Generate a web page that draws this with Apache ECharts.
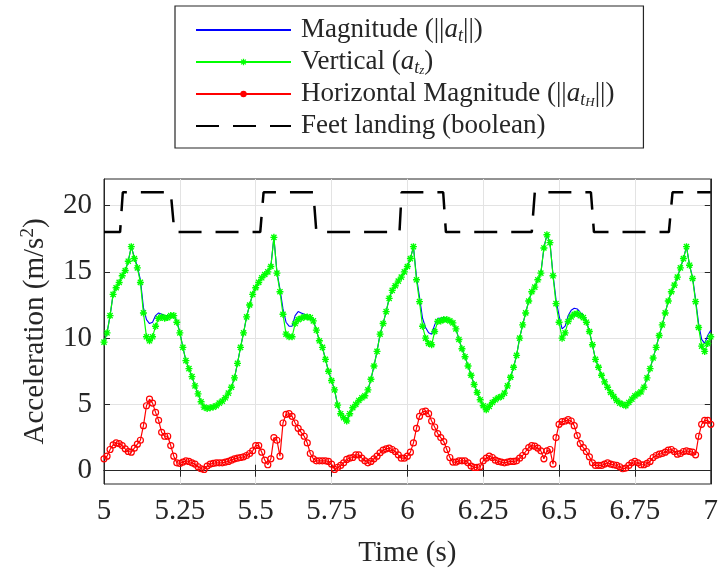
<!DOCTYPE html>
<html>
<head>
<meta charset="utf-8">
<script src="https://cdn.jsdelivr.net/npm/echarts@6/dist/echarts.min.js"></script>
<style>
html,body{margin:0;padding:0;background:#fff;}
#chart{width:721px;height:573px;}
</style>
</head>
<body>
<div id="chart"></div>
<script>
// ---- data ----
const time = [
5.00,5.01,5.02,5.03,5.04,5.05,5.06,5.07,5.08,5.09,
5.10,5.11,5.12,5.13,5.14,5.15,5.16,5.17,5.18,5.19,
5.20,5.21,5.22,5.23,5.24,5.25,5.26,5.27,5.28,5.29,
5.30,5.31,5.32,5.33,5.34,5.35,5.36,5.37,5.38,5.39,
5.40,5.41,5.42,5.43,5.44,5.45,5.46,5.47,5.48,5.49,
5.50,5.51,5.52,5.53,5.54,5.55,5.56,5.57,5.58,5.59,
5.60,5.61,5.62,5.63,5.64,5.65,5.66,5.67,5.68,5.69,
5.70,5.71,5.72,5.73,5.74,5.75,5.76,5.77,5.78,5.79,
5.80,5.81,5.82,5.83,5.84,5.85,5.86,5.87,5.88,5.89,
5.90,5.91,5.92,5.93,5.94,5.95,5.96,5.97,5.98,5.99,
6.00,6.01,6.02,6.03,6.04,6.05,6.06,6.07,6.08,6.09,
6.10,6.11,6.12,6.13,6.14,6.15,6.16,6.17,6.18,6.19,
6.20,6.21,6.22,6.23,6.24,6.25,6.26,6.27,6.28,6.29,
6.30,6.31,6.32,6.33,6.34,6.35,6.36,6.37,6.38,6.39,
6.40,6.41,6.42,6.43,6.44,6.45,6.46,6.47,6.48,6.49,
6.50,6.51,6.52,6.53,6.54,6.55,6.56,6.57,6.58,6.59,
6.60,6.61,6.62,6.63,6.64,6.65,6.66,6.67,6.68,6.69,
6.70,6.71,6.72,6.73,6.74,6.75,6.76,6.77,6.78,6.79,
6.80,6.81,6.82,6.83,6.84,6.85,6.86,6.87,6.88,6.89,
6.90,6.91,6.92,6.93,6.94,6.95,6.96,6.97,6.98,6.99,
7.00];

const vertical = [
9.7,10.4,11.7,13.3,13.8,14.2,14.7,15.1,15.8,16.9,
16.0,15.3,14.2,11.9,10.1,9.8,10.1,10.9,11.5,11.6,
11.5,11.55,11.7,11.7,11.2,10.4,9.3,8.3,7.7,7.1,
6.4,5.8,5.2,4.8,4.7,4.75,4.8,4.9,5.1,5.25,
5.5,5.85,6.3,7.0,8.1,9.3,10.4,11.6,12.5,13.3,
13.8,14.2,14.55,14.8,15.0,15.4,17.6,14.9,13.5,11.8,
10.3,10.1,10.1,11.1,11.4,11.5,11.6,11.6,11.55,11.3,
10.6,9.8,9.3,8.4,7.5,6.8,6.1,4.95,4.3,4.0,
3.75,4.3,4.75,5.0,5.3,5.5,5.65,6.1,6.9,7.9,
9.0,10.3,11.1,12.0,13.0,13.6,13.95,14.3,14.6,15.0,
15.4,16.0,16.9,14.4,12.75,10.9,10.0,9.6,9.5,10.5,
11.25,11.3,11.4,11.4,11.3,11.15,10.7,9.9,9.2,8.6,
7.9,7.2,6.5,5.9,5.35,4.9,4.6,4.85,5.15,5.35,
5.5,5.6,5.85,6.4,7.05,7.8,8.7,10.0,11.0,11.9,
12.8,13.5,13.85,14.4,14.9,16.8,17.8,17.2,14.7,12.6,
11.2,10.0,10.4,11.25,11.6,11.8,11.85,11.7,11.55,11.2,
10.5,9.5,8.4,7.8,7.2,6.7,6.3,5.9,5.6,5.3,
5.1,5.0,4.9,5.15,5.4,5.65,5.8,5.95,6.3,7.0,
7.7,8.5,9.3,10.2,11.0,11.9,12.8,13.5,14.0,14.6,
15.3,16.0,16.9,15.5,14.5,12.75,10.8,9.4,9.0,9.6,
10.1];

const magnitude = [
9.7,10.4,11.7,13.3,13.8,14.2,14.7,15.1,15.8,16.9,
16.1,15.4,14.4,12.3,11.4,11.1,11.2,11.7,11.9,11.8,
11.7,11.7,11.75,11.75,11.3,10.45,9.3,8.3,7.7,7.1,
6.4,5.8,5.2,4.8,4.7,4.75,4.8,4.9,5.1,5.25,
5.5,5.85,6.3,7.0,8.1,9.3,10.4,11.6,12.5,13.3,
13.8,14.2,14.55,14.8,15.0,15.4,17.6,15.0,13.7,12.2,
11.2,10.9,10.9,11.7,12.0,11.9,11.8,11.7,11.6,11.35,
10.6,9.8,9.3,8.4,7.5,6.8,6.1,4.95,4.3,4.0,
3.75,4.3,4.75,5.0,5.3,5.5,5.65,6.1,6.9,7.9,
9.0,10.3,11.1,12.0,13.0,13.6,13.95,14.3,14.6,15.0,
15.4,16.0,16.9,14.6,13.1,11.5,10.8,10.4,10.3,11.0,
11.5,11.5,11.55,11.5,11.35,11.2,10.7,9.9,9.2,8.6,
7.9,7.2,6.5,5.9,5.35,4.9,4.6,4.85,5.15,5.35,
5.5,5.6,5.85,6.4,7.05,7.8,8.7,10.0,11.0,11.9,
12.8,13.5,13.85,14.4,14.9,16.8,17.8,17.2,14.8,12.9,
11.7,10.7,10.9,11.7,12.1,12.25,12.2,11.95,11.7,11.3,
10.5,9.5,8.4,7.8,7.2,6.7,6.3,5.9,5.6,5.3,
5.1,5.0,4.9,5.15,5.4,5.65,5.8,5.95,6.3,7.0,
7.7,8.5,9.3,10.2,11.0,11.9,12.8,13.5,14.0,14.6,
15.3,16.0,16.9,15.5,14.6,12.9,11.1,9.9,9.6,10.2,
10.6];

const horizontal = [
0.9,1.1,1.6,1.95,2.1,2.05,1.9,1.65,1.45,1.4,
1.7,2.0,2.3,3.4,4.9,5.4,5.1,4.4,3.8,2.9,
2.6,2.6,1.9,1.1,0.6,0.55,0.65,0.75,0.7,0.6,
0.5,0.3,0.15,0.1,0.35,0.5,0.55,0.6,0.6,0.6,
0.65,0.7,0.8,0.9,0.95,1.0,1.05,1.15,1.3,1.5,
1.9,1.9,1.4,0.8,0.45,0.9,2.5,2.3,1.1,3.6,
4.25,4.3,4.1,3.6,3.2,2.9,2.6,2.1,1.3,0.9,
0.75,0.75,0.75,0.75,0.7,0.5,0.1,0.25,0.4,0.6,
0.85,0.95,1.0,1.2,1.2,0.95,0.75,0.6,0.7,0.9,
1.1,1.35,1.55,1.65,1.7,1.6,1.45,1.2,0.95,0.95,
1.1,1.4,2.1,3.2,4.1,4.45,4.5,4.3,3.75,3.3,
2.8,2.5,2.2,1.6,1.0,0.65,0.65,0.75,0.75,0.75,
0.6,0.35,0.25,0.25,0.3,0.75,0.95,1.1,1.0,0.8,
0.7,0.65,0.6,0.65,0.7,0.7,0.75,0.95,1.15,1.45,
1.75,1.9,1.85,1.7,1.5,0.9,1.5,1.6,0.5,2.5,
3.5,3.7,3.75,3.85,3.75,3.4,2.65,2.05,1.75,1.45,
1.05,0.6,0.4,0.4,0.4,0.5,0.6,0.5,0.45,0.4,
0.3,0.15,0.2,0.4,0.6,0.7,0.6,0.45,0.45,0.55,
0.7,1.0,1.15,1.25,1.3,1.4,1.55,1.6,1.45,1.25,
1.3,1.45,1.5,1.45,1.4,1.2,2.6,3.5,3.8,3.8,
3.5];

const feetTime  = [5.00,5.053,5.062,5.22,5.232,5.515,5.526,5.69,5.70,5.974,5.981,6.118,6.127,6.41,6.42,6.605,6.615,6.862,6.874,7.00];
const feetValue = [18,18,21,21,18,18,21,21,18,18,21,21,18,18,21,21,18,18,21,21];

const xTicks = [5, 5.25, 5.5, 5.75, 6, 6.25, 6.5, 6.75, 7];
const yTicks = [0, 5, 10, 15, 20];

const N1 = 'Magnitude (||a_t||)';
const N2 = 'Vertical (a_tz)';
const N3 = 'Horizontal Magnitude (||a_tH||)';
const N4 = 'Feet landing (boolean)';
const legendRich = {};
legendRich[N1] = 'Magnitude (||{it|a}{sub|t}||)';
legendRich[N2] = 'Vertical ({it|a}{sub|t}{subsub|z})';
legendRich[N3] = 'Horizontal Magnitude (||{it|a}{sub|t}{subsub|H}||)';
legendRich[N4] = 'Feet landing (boolean)';

// ---- chart ----
const FONT = '"Liberation Serif", "Times New Roman", serif';
const TXT = '#262626';
const asterisk = 'path://M-0.8,-4L0.8,-4L0.8,4L-0.8,4Z M-4,-0.8L4,-0.8L4,0.8L-4,0.8Z M-2.4,-3.5L3.5,2.4L2.4,3.5L-3.5,-2.4Z M2.4,-3.5L3.5,-2.4L-2.4,3.5L-3.5,2.4Z';

const zip = (a, b) => a.map((t, i) => [t, b[i]]);

const chart = echarts.init(document.getElementById('chart'), null, {renderer: 'canvas'});
chart.setOption({
  animation: false,
  backgroundColor: '#ffffff',
  grid: {left: 104, right: 6, top: 179, bottom: 86, show: true, borderColor: TXT, borderWidth: 1, backgroundColor: 'transparent'},
  legend: {
    orient: 'vertical',
    left: 175, top: 6,
    padding: [9, 29, 7, 20],
    itemWidth: 95, itemHeight: 8, itemGap: 2,
    borderColor: TXT, borderWidth: 1.2, backgroundColor: '#fff',
    selectedMode: false,
    formatter: name => legendRich[name],
    textStyle: {
      fontFamily: FONT, fontSize: 27, color: TXT, lineHeight: 30, padding: [0, 0, 0, 5],
      rich: {
        it: {fontFamily: FONT, fontSize: 27, fontStyle: 'italic', color: TXT, lineHeight: 30},
        sub: {fontFamily: FONT, fontSize: 18, fontStyle: 'italic', color: TXT, lineHeight: 16, verticalAlign: 'bottom'},
        subsub: {fontFamily: FONT, fontSize: 13, fontStyle: 'italic', color: TXT, lineHeight: 8, verticalAlign: 'bottom'}
      }
    },
    data: [
      {name: N1, itemStyle: {opacity: 0}},
      {name: N2},
      {name: N3, itemStyle: {color: '#ff0000', borderWidth: 0}},
      {name: N4, itemStyle: {opacity: 0}}
    ]
  },
  xAxis: [{
    type: 'value', min: 5, max: 7, interval: 0.25, position: 'bottom',
    name: 'Time (s)', nameLocation: 'middle', nameGap: 55,
    nameTextStyle: {fontFamily: FONT, fontSize: 29, color: TXT},
    axisLine: {show: true, lineStyle: {color: TXT, width: 1}},
    axisTick: {show: true, inside: true, length: 6, lineStyle: {color: TXT}},
    axisLabel: {fontFamily: FONT, fontSize: 29, color: TXT, margin: 13, showMinLabel: true, showMaxLabel: true},
    splitLine: {show: true, lineStyle: {color: '#e3e3e3', width: 1}}
  }, {
    type: 'value', min: 5, max: 7, interval: 0.25, position: 'top',
    axisLine: {show: true, lineStyle: {color: TXT, width: 1}},
    axisTick: {show: true, inside: true, length: 6, lineStyle: {color: TXT}},
    axisLabel: {show: false}, splitLine: {show: false}
  }],
  yAxis: [{
    type: 'value', min: -1, max: 22, position: 'left',
    name: 'Acceleration (m/s{sup|2})', nameLocation: 'middle', nameGap: 50, nameRotate: 90,
    nameTextStyle: {fontFamily: FONT, fontSize: 29, color: TXT, lineHeight: 34,
      rich: {sup: {fontFamily: FONT, fontSize: 19, color: TXT, lineHeight: 16, verticalAlign: 'top'}}},
    axisLine: {show: true, lineStyle: {color: TXT, width: 1}},
    axisTick: {show: true, inside: true, length: 6, lineStyle: {color: TXT}, customValues: yTicks},
    axisLabel: {fontFamily: FONT, fontSize: 29, color: TXT, margin: 12, customValues: yTicks},
    splitLine: {show: true, lineStyle: {color: '#e3e3e3', width: 1}}
  }, {
    type: 'value', min: -1, max: 22, position: 'right',
    axisLine: {show: true, lineStyle: {color: TXT, width: 1}},
    axisTick: {show: true, inside: true, length: 6, lineStyle: {color: TXT}, customValues: yTicks},
    axisLabel: {show: false, customValues: yTicks}, splitLine: {show: false}
  }],
  series: [
    {
      name: N1, type: 'line', data: zip(time, magnitude), symbol: 'none',
      lineStyle: {color: '#0000ff', width: 1.1}, itemStyle: {color: '#0000ff'},
      emphasis: {disabled: true}
    },
    {
      name: N2, type: 'line', data: zip(time, vertical), symbol: asterisk, symbolSize: 7,
      lineStyle: {color: '#00ff00', width: 1.2}, itemStyle: {color: '#00ff00'},
      emphasis: {disabled: true}
    },
    {
      name: N3, type: 'line', data: zip(time, horizontal), symbol: 'circle', symbolSize: 6,
      lineStyle: {color: '#ff0000', width: 1.2},
      itemStyle: {color: 'rgba(255,0,0,0)', borderColor: '#ff0000', borderWidth: 1.2},
      emphasis: {disabled: true}
    },
    {
      name: N4, type: 'line', data: zip(feetTime, feetValue), symbol: 'none',
      lineStyle: {color: '#000000', width: 2.5, type: [23, 14]}, itemStyle: {color: '#000000'},
      emphasis: {disabled: true}
    }
  ]
});
</script>
</body>
</html>
